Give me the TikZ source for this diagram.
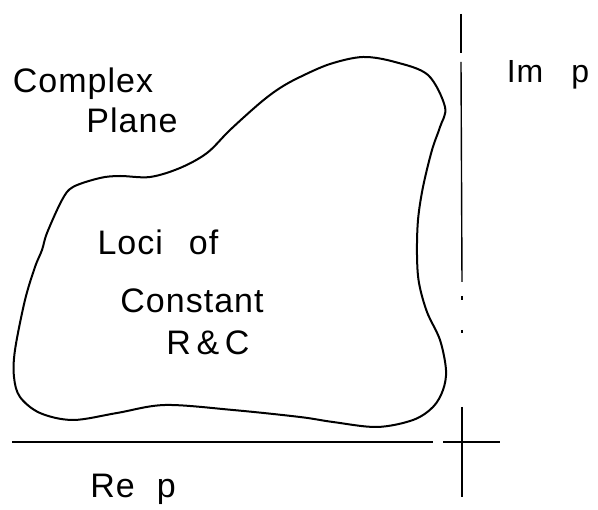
\documentclass[tikz,border=0pt]{standalone}
\usepackage{fontspec}
\setmainfont{Liberation Sans}[LetterSpace=3]
\begin{document}
\begin{tikzpicture}[x=1pt,y=-1pt,
  lbl/.style={anchor=base,inner sep=0pt,font=\fontsize{34}{40}\selectfont},
  axis/.style={line width=1.4pt},
  locus/.style={line width=2pt,line join=round}]
\useasboundingbox (0,0) rectangle (598,510);
% axes
\coordinate (v1) at (461,14);
\coordinate (v2) at (461,53);
\coordinate (v3) at (461,62);
\coordinate (v4) at (462,282);
\coordinate (v5) at (462,407);
\coordinate (v6) at (462,497);
\coordinate (h1) at (12,442);
\coordinate (h2) at (433,442);
\coordinate (h3) at (443,442);
\coordinate (h4) at (500,442);
\draw[axis] (v1) -- (v2);
\draw[axis] (v3) -- (v4);
\draw[axis] (462,296) -- (462,300);
\draw[axis] (462,330) -- (462,333);
\draw[axis] (v5) -- (v6);
\draw[axis] (h1) -- (h2);
\draw[axis] (h3) -- (h4);
% locus
\draw[locus] plot[smooth cycle,tension=0.55] coordinates {
(42,250) (47,233) (62,200) (73,187) (100,178) (120,176) (150,177) (180,168)
(207,153) (230,130) (260,103) (280,88) (300,77) (330,64) (363,57) (395,62)
(428,75) (445,107) (440,127) (432,150) (423,187) (418,220) (417,255) (419,283)
(427,312) (440,340) (446,370) (443,390) (433,407) (413,420) (377,427) (333,422)
(300,417) (233,410) (165,405) (117,413) (73,420) (40,413) (20,397) (14,377)
(15,350) (25,300) (35,267)};
% labels
\node[lbl] (complex) at (83,93) {Complex};
\node[lbl] (plane) at (132,133) {Plane};
\node[lbl] (loci) at (158,255) {Loci\hspace{26pt}of};
\node[lbl] (const) at (192,313) {Constant};
\node[lbl] (rc) at (208,355) {R\,\&\,C};
\node[lbl] (rep) at (133,498) {Re\hspace{22pt}p};
\node[lbl,font=\fontsize{32}{38}\selectfont] (imp) at (548,83) {Im\hspace{28pt}p};
\end{tikzpicture}
\end{document}
